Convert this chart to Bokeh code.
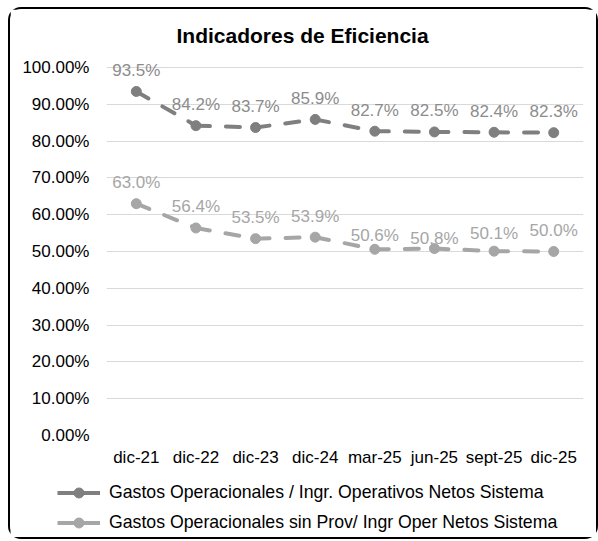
from bokeh.plotting import figure
from bokeh.layouts import column
from bokeh.models import (FactorRange, Range1d, FixedTicker, NumeralTickFormatter,
                          Legend, LegendItem, ColumnDataSource)
from bokeh.core.properties import value
from bokeh.embed import file_html
from bokeh.resources import INLINE

categories = ["dic-21", "dic-22", "dic-23", "dic-24", "mar-25", "jun-25", "sept-25", "dic-25"]
serie_1_name = "Gastos Operacionales / Ingr. Operativos Netos Sistema"
serie_1 = [0.935, 0.842, 0.837, 0.859, 0.827, 0.825, 0.824, 0.823]
serie_2_name = "Gastos Operacionales sin Prov/ Ingr Oper Netos Sistema"
serie_2 = [0.630, 0.564, 0.535, 0.539, 0.506, 0.508, 0.501, 0.500]
y_ticks = [0.0, 0.1, 0.2, 0.3, 0.4, 0.5, 0.6, 0.7, 0.8, 0.9, 1.0]
title_text = "Indicadores de Eficiencia"

FONT = "Liberation Sans"
C1, C1_LABEL = "#7f7f7f", "#8c8c8c"
C2, C2_LABEL = "#a6a6a6", "#a6a6a6"

# label offsets (pixels, screen) — style only
off_1 = [-21] * len(serie_1)
off_2 = [-21, -21, -21, -21, -14, -10, -18, -21]

xr = FactorRange(*categories, range_padding=0)

p = figure(width=586, height=466, x_range=xr,
           y_range=Range1d(0, 1.03), output_backend="svg", toolbar_location=None,
           min_border_left=96, min_border_right=13, min_border_top=47, min_border_bottom=40)
p.frame_align = False

p.title.text = title_text
p.title.text_font = FONT
p.title.text_font_size = "21px"
p.title.text_font_style = "bold"
p.title.align = "left"
p.title.offset = 70
p.title.standoff = 19
p.title.text_color = "#000000"

p.outline_line_color = None
p.xgrid.grid_line_color = None
p.ygrid.grid_line_color = "#d9d9d9"
p.ygrid.grid_line_width = 1
p.yaxis.ticker = FixedTicker(ticks=y_ticks)
p.yaxis.formatter = NumeralTickFormatter(format="0.00%")
for ax in (p.xaxis, p.yaxis):
    ax.axis_line_color = None
    ax.major_tick_line_color = None
    ax.minor_tick_line_color = None
    ax.major_tick_out = 0
    ax.major_tick_in = 0
    ax.minor_tick_out = 0
    ax.major_label_text_font = FONT
    ax.major_label_text_font_size = "17px"
    ax.major_label_text_color = "#000000"
p.yaxis.major_label_standoff = 17
p.xaxis.major_label_standoff = 12

def draw_series(fig, vals, line_color, dash, cap):
    seg_src = ColumnDataSource(dict(x0=categories[:-1], x1=categories[1:],
                                    y0=vals[:-1], y1=vals[1:]))
    seg = fig.segment("x0", "y0", "x1", "y1", source=seg_src, line_color=line_color,
                      line_width=4, line_dash=dash, line_cap=cap)
    pt_src = ColumnDataSource(dict(x=categories, y=vals))
    sc = fig.scatter("x", "y", source=pt_src, size=10, fill_color=line_color,
                     line_color=line_color)
    return [seg, sc]

def add_labels(vals, offs, label_color):
    src = ColumnDataSource(dict(x=categories, y=vals,
                                t=[f"{v*100:.1f}%" for v in vals], off=offs))
    p.text("x", "y", text="t", y_offset="off", source=src, text_align="center",
           text_baseline="middle", text_font=value(FONT), text_font_size="17px",
           text_color=label_color)

draw_series(p, serie_1, C1, "14 16", "round")
add_labels(serie_1, off_1, C1_LABEL)
draw_series(p, serie_2, C2, "14 16", "round")
add_labels(serie_2, off_2, C2_LABEL)

# legend strip below the chart (series drawn out of view, only used as legend glyph source)
pl = figure(width=586, height=62, x_range=xr, y_range=Range1d(5, 6),
            output_backend="svg", toolbar_location=None, min_border=0,
            min_border_left=0, min_border_right=0, min_border_top=0, min_border_bottom=0,
            x_axis_location=None, y_axis_location=None)
pl.frame_align = False
pl.outline_line_color = None
pl.xgrid.visible = False
pl.ygrid.visible = False

r1 = draw_series(pl, serie_1, C1, "solid", "butt")
r2 = draw_series(pl, serie_2, C2, "solid", "butt")

legend = Legend(items=[LegendItem(label=serie_1_name, renderers=r1),
                       LegendItem(label=serie_2_name, renderers=r2)],
                location=(47, 2), orientation="vertical",
                glyph_width=43, glyph_height=25, label_height=20,
                label_standoff=9, spacing=5, padding=0, margin=0,
                border_line_color=None, background_fill_alpha=0,
                label_text_font=FONT, label_text_font_size="17.7px",
                label_text_color="#000000")
pl.add_layout(legend, "center")

layout = column(p, pl, width=590, height=532, spacing=0,
                styles={"border": "2px solid #000000", "border-radius": "13px",
                        "margin-left": "8px", "margin-top": "7px"})

open("out.html", "w").write(file_html(layout, INLINE))
